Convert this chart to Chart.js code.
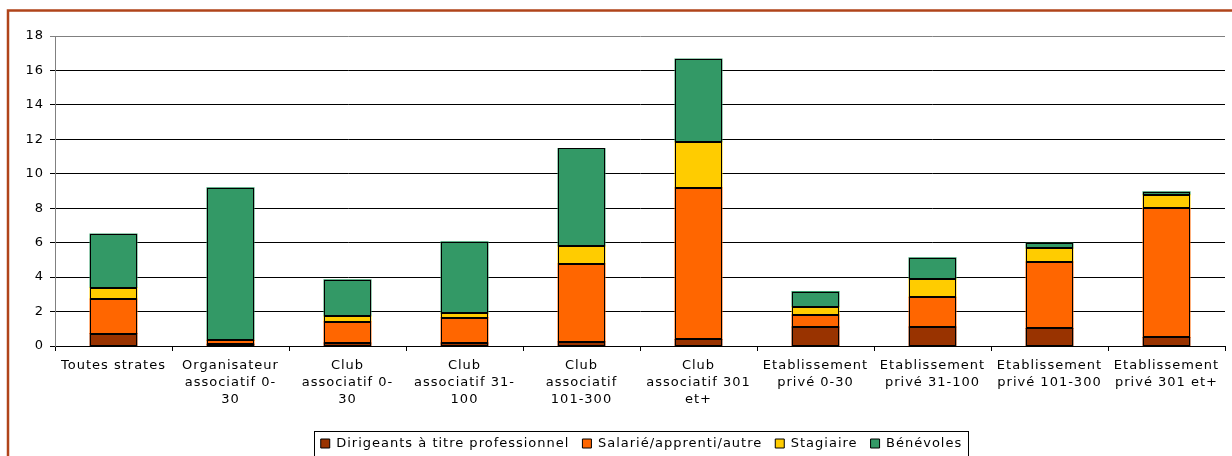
<!DOCTYPE html>
<html>
<head>
<meta charset="utf-8">
<script src="https://cdn.jsdelivr.net/npm/chart.js@4"></script>
<style>
  html, body { margin: 0; padding: 0; background: #fff; overflow: hidden; }
  #wrap { position: absolute; left: 0; top: 0; width: 1232px; height: 456px; overflow: hidden; }
</style>
</head>
<body>
<div id="wrap"><canvas id="effectifChart"></canvas></div>
<script>
// categories
var categories = [
    'Toutes strates',
    ['Organisateur', 'associatif 0-', '30'],
    ['Club', 'associatif 0-', '30'],
    ['Club', 'associatif 31-', '100'],
    ['Club', 'associatif', '101-300'],
    ['Club', 'associatif 301', 'et+'],
    ['Etablissement', 'privé 0-30'],
    ['Etablissement', 'privé 31-100'],
    ['Etablissement', 'privé 101-300'],
    ['Etablissement', 'privé 301 et+']
];

// series values
var dirigeants = [0.72, 0.10, 0.17, 0.17, 0.25, 0.38, 1.10, 1.10, 1.02, 0.50];
var salaries   = [2.01, 0.22, 1.24, 1.48, 4.53, 8.81, 0.70, 1.73, 3.86, 7.50];
var stagiaires = [0.66, 0.02, 0.33, 0.25, 1.03, 2.67, 0.48, 1.08, 0.79, 0.78];
var benevoles  = [3.12, 8.85, 2.11, 4.15, 5.66, 4.80, 0.88, 1.21, 0.30, 0.17];

var seriesNames = ['Dirigeants à titre professionnel', 'Salarié/apprenti/autre', 'Stagiaire', 'Bénévoles'];
var yTicks = [0, 2, 4, 6, 8, 10, 12, 14, 16, 18];

var font = { family: '"DejaVu Sans", Verdana, sans-serif', size: 13, lineHeight: 1.3 };
var H = 460; // a bit taller than the window, bottom of legend box is cut like the original
var legendShift = 24;

// verdana-like spacing, outer brown frame, crisp bar outlines, box around legend
var decor = {
    id: 'decor',
    beforeLayout: function (chart) { chart.ctx.letterSpacing = '1px'; },
    afterLayout: function (chart) {
        var lg = chart.legend;
        lg.left += legendShift;
        lg.right += legendShift;
        (lg.legendHitBoxes || []).forEach(function (b) { b.left += legendShift; });
    },
    beforeDraw: function (chart) {
        var ctx = chart.ctx;
        ctx.letterSpacing = '1px';
        ctx.save();
        ctx.strokeStyle = '#b0441a';
        ctx.lineWidth = 2.5;
        ctx.strokeRect(8, 10.5, 1400, 600);
        ctx.restore();
    },
    afterDatasetsDraw: function (chart) {
        var ctx = chart.ctx;
        ctx.save();
        ctx.strokeStyle = '#000';
        ctx.lineWidth = 1;
        chart.data.datasets.forEach(function (ds, i) {
            chart.getDatasetMeta(i).data.forEach(function (bar) {
                var l = Math.round(bar.x - bar.width / 2) + 0.5;
                var r = Math.round(bar.x + bar.width / 2) - 0.5;
                var t = Math.round(bar.y) + 0.5;
                var b = Math.round(bar.base) - 0.5;
                ctx.strokeRect(l, t, r - l, Math.max(b - t, 0));
            });
        });
        ctx.restore();
    },
    afterDraw: function (chart) {
        var boxes = chart.legend.legendHitBoxes;
        if (!boxes || !boxes.length) return;
        var left = boxes[0].left, right = 0, top = boxes[0].top;
        boxes.forEach(function (b) {
            left = Math.min(left, b.left);
            right = Math.max(right, b.left + b.width);
            top = Math.min(top, b.top);
        });
        var ctx = chart.ctx;
        ctx.save();
        ctx.strokeStyle = '#000';
        ctx.lineWidth = 1;
        ctx.strokeRect(Math.round(left - 7) + 0.5, Math.round(top - 6) + 0.5, Math.round(right - left + 12), 40);
        ctx.restore();
    }
};

var colors = ['#993300', '#ff6600', '#ffcc00', '#339966'];
var values = [dirigeants, salaries, stagiaires, benevoles];

var config = {
    type: 'bar',
    data: {
        labels: categories,
        datasets: values.map(function (v, i) {
            return {
                label: seriesNames[i],
                data: v,
                backgroundColor: colors[i],
                borderWidth: 0,
                inflateAmount: 0.5,
                barPercentage: 47 / 117,
                categoryPercentage: 1
            };
        })
    },
    options: {
        responsive: false,
        animation: false,
        layout: { padding: { left: 10, right: 7, top: 36, bottom: 0 } },
        plugins: {
            tooltip: { enabled: false },
            legend: {
                position: 'bottom',
                labels: {
                    color: '#000',
                    font: font,
                    boxWidth: 9,
                    boxHeight: 9,
                    padding: 13,
                    generateLabels: function (chart) {
                        return chart.data.datasets.map(function (ds, i) {
                            return {
                                text: ds.label,
                                fillStyle: ds.backgroundColor,
                                strokeStyle: '#000',
                                lineWidth: 1,
                                datasetIndex: i,
                                fontColor: '#000'
                            };
                        });
                    }
                }
            }
        },
        scales: {
            x: {
                stacked: true,
                grid: { drawOnChartArea: false, color: '#000', tickLength: 5, offset: true },
                border: { color: '#000' },
                ticks: { color: '#000', font: font, maxRotation: 0, autoSkip: false, padding: 6 },
                afterFit: function (s) {
                    s.height = H - 346 - s.chart.legend.height;
                }
            },
            y: {
                stacked: true,
                min: 0,
                max: 18,
                afterBuildTicks: function (s) {
                    s.ticks = yTicks.map(function (t) { return { value: t }; });
                },
                grid: {
                    color: function (c) { return c.tick && c.tick.value === 18 ? '#808080' : '#000'; },
                    tickLength: 5
                },
                border: { color: '#808080' },
                ticks: { color: '#000', font: font, padding: 6 },
                afterFit: function (s) { s.width = 45; }
            }
        }
    },
    plugins: [decor]
};

var canvas = document.getElementById('effectifChart');
canvas.width = 1232;
canvas.height = H;
var chart = new Chart(canvas.getContext('2d'), config);
</script>
</body>
</html>
